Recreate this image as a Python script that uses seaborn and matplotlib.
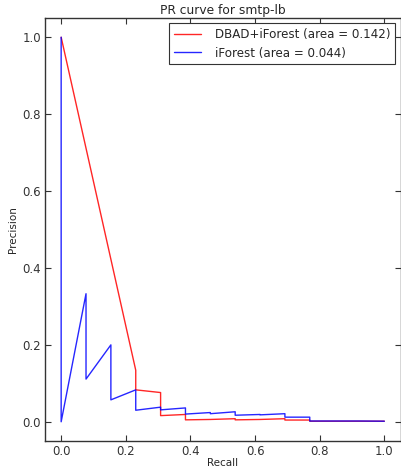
import numpy as np
import pandas as pd
import matplotlib
matplotlib.use("Agg")
import matplotlib.pyplot as plt
import seaborn as sns

# Data (recall in steps of 1/13)
dbad_recall = [0, 3/13, 3/13, 4/13, 4/13, 5/13, 5/13, 6/13, 7/13, 7/13, 8/13, 9/13, 9/13, 10/13, 10/13, 11/13, 12/13, 1.0]
dbad_precision = [1.0, 0.134, 0.083, 0.076, 0.016, 0.019, 0.005, 0.006, 0.008, 0.005, 0.006, 0.008, 0.0045, 0.0045, 0.0015, 0.0015, 0.0015, 0.0015]

if_recall = [0, 0, 1/13, 1/13, 2/13, 2/13, 3/13, 3/13, 4/13, 4/13, 5/13, 5/13, 6/13, 6/13, 7/13, 7/13, 8/13, 8/13, 9/13, 9/13, 10/13, 10/13, 11/13, 12/13, 1.0]
if_precision = [1.0, 0.0, 0.333, 0.111, 0.2, 0.057, 0.083, 0.03, 0.038, 0.031, 0.036, 0.02, 0.024, 0.021, 0.026, 0.017, 0.019, 0.018, 0.021, 0.012, 0.012, 0.002, 0.002, 0.002, 0.0015]

labels = ["DBAD+iForest (area = 0.142)", "iForest (area = 0.044)"]
colors = ["#ff0000", "#0000ff"]
ticks = [0.0, 0.2, 0.4, 0.6, 0.8, 1.0]

sns.set_theme(style="ticks")
plt.rcParams.update({
    "font.family": ["DejaVu Sans"],
    "xtick.direction": "in", "ytick.direction": "in",
    "xtick.top": True, "ytick.right": True,
    "axes.edgecolor": "#333333", "axes.linewidth": 1.0,
})

fig = plt.figure(figsize=(4.01, 4.69), dpi=100)
ax = fig.add_axes([45/401, 1-441/469, 355.5/401, (441-18)/469])

df1 = pd.DataFrame({"Recall": dbad_recall, "Precision": dbad_precision})
df2 = pd.DataFrame({"Recall": if_recall, "Precision": if_precision})
sns.lineplot(data=df1, x="Recall", y="Precision", sort=False, estimator=None,
             color=colors[0], linewidth=1.0, label=labels[0], ax=ax, alpha=0.85)
sns.lineplot(data=df2, x="Recall", y="Precision", sort=False, estimator=None,
             color=colors[1], linewidth=1.0, label=labels[1], ax=ax, alpha=0.85)

ax.set_xlim(-0.05, 1.05)
ax.set_ylim(-0.05, 1.05)
ax.set_xticks(ticks)
ax.set_yticks(ticks)
ax.tick_params(labelsize=8.5, length=4, width=0.8, colors="#333333", pad=3)
ax.set_xlabel("Recall", fontsize=7.5, labelpad=0)
ax.set_ylabel("Precision", fontsize=7.5, labelpad=3)
ax.set_title("PR curve for smtp-lb", fontsize=8.8, pad=3)
leg = ax.legend(loc="upper right", fontsize=8.6, frameon=True, fancybox=False,
                edgecolor="#333333", framealpha=1, borderaxespad=0.45,
                handlelength=2.2, handletextpad=1.2, labelspacing=0.45)
leg.get_frame().set_linewidth(0.8)

fig.savefig("out.png", dpi=100)
